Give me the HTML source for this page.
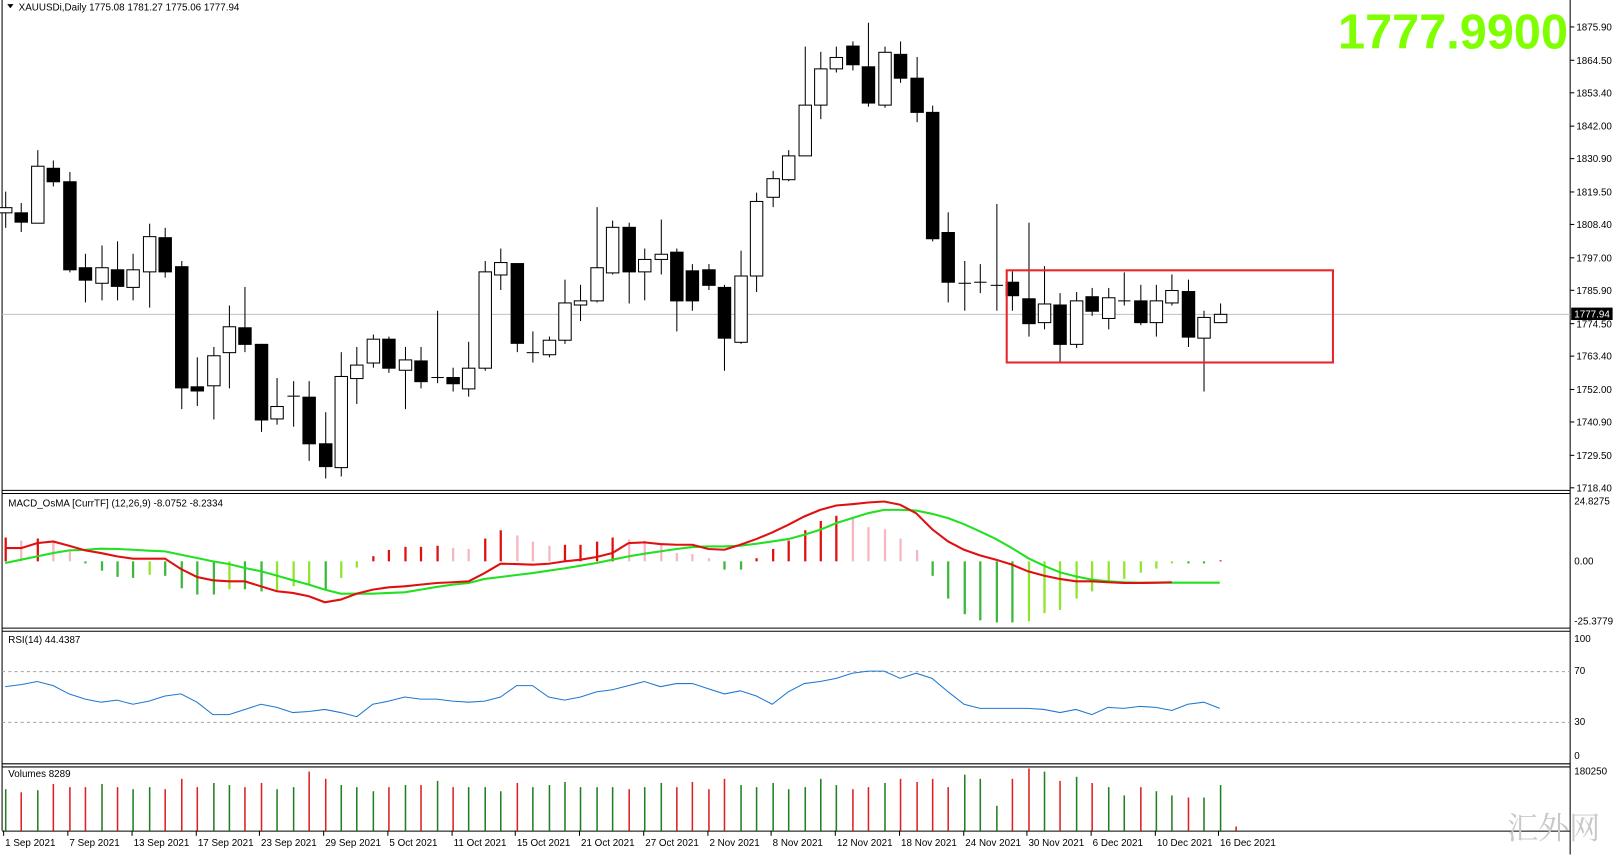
<!DOCTYPE html>
<html><head><meta charset="utf-8"><style>
html,body{margin:0;padding:0;background:#fff;overflow:hidden}
svg{display:block}
text{font-family:"Liberation Sans","DejaVu Sans",sans-serif;font-size:9.5px;fill:#000}
</style></head><body>
<svg id="s" width="1624" height="856" viewBox="0 0 1568 826.5" preserveAspectRatio="none" xmlns="http://www.w3.org/2000/svg">
<rect width="1568" height="826.5" fill="#fff"/>
<g id="g"></g>
<text x="1514" y="47" text-anchor="end" style="font-size:47px;font-weight:bold;fill:#7fff00">1777.9900</text>
<text x="18" y="10">XAUUSDi,Daily  1775.08 1781.27 1775.06 1777.94</text>
<path d="M7 4 L13 4 L10 8 Z" fill="#000"/>
<text x="8" y="489">MACD_OsMA [CurrTF] (12,26,9) -8.0752 -8.2334</text>
<text x="8" y="621">RSI(14) 44.4387</text>
<text x="8" y="750">Volumes 8289</text>
<text x="1500" y="810" text-anchor="middle" style="font-size:30px;fill:#c8c8c8;font-family:'Noto Serif CJK SC','Noto Sans CJK SC',serif">汇外网</text>
</svg>
<script>
var g=document.getElementById('g'),h='';
function L(x1,y1,x2,y2,c,w,d){h+='<line x1="'+x1+'" y1="'+y1+'" x2="'+x2+'" y2="'+y2+'" stroke="'+c+'" stroke-width="'+(w||1)+'"'+(d?' stroke-dasharray="'+d+'"':'')+'/>';}
function R(x,y,w,hh,f,s){h+='<rect x="'+x+'" y="'+y+'" width="'+w+'" height="'+hh+'" fill="'+f+'"'+(s?' stroke="'+s+'"':'')+'/>';}
function T(x,y,t,a){h+='<text x="'+x+'" y="'+y+'"'+(a?' text-anchor="'+a+'"':'')+'>'+t+'</text>';}
L(2,0,2,802,'#000');L(1516,0,1516,825,'#000');
[473,476,606,609,737,740,802].forEach(function(y){L(2,y+.5,1516,y+.5,'#000');});
var pl=[1875.9,1864.5,1853.4,1842,1830.9,1819.5,1808.4,1797,1785.9,1774.5,1763.4,1752,1740.9,1729.5,1718.4];
pl.forEach(function(p){var y=26+(1875.9-p)*2.8254;L(1516,y,1520,y,'#000');T(1522,y+3.5,p.toFixed(2));});
L(2,303.5,1516,303.5,'#c0c0c0');
var C=[[185,200,205,220,1],[196,205,214,224,0],[145,160,215,215,1],[155,162,175,180,0],[166,175,260,263,0],[245,258,270,292,0],[237,258,273,290,1],[233,260,276,290,0],[245,260,277,290,1],[216,228,262,297,1],[220,229,262,268,0],[252,257,374,395,0],[345,373,377,392,0],[335,343,372,405,1],[295,315,340,375,1],[277,316,332,340,0],[332,332,405,417,0],[365,392,404,410,1],[368,382,383,412,2],[368,383,428,445,0],[398,428,450,462,0],[340,363,451,460,1],[335,352,365,390,1],[323,327,350,355,1],[325,327,355,360,0],[335,347,357,395,1],[335,348,368,375,0],[300,364,365,370,2],[355,364,370,378,0],[330,355,375,383,1],[252,262,355,358,1],[240,253,265,280,1],[254,254,331,340,0],[320,340,341,350,2],[325,328,342,345,1],[270,292,328,332,1],[275,290,294,310,1],[200,258,290,292,1],[213,219,263,265,1],[215,219,262,293,0],[240,250,262,290,1],[212,245,250,265,1],[240,243,290,320,0],[255,261,290,300,0],[255,260,275,280,0],[275,277,326,358,0],[242,266,330,332,1],[186,194,266,282,1],[165,172,190,200,1],[145,150,173,175,1],[45,101,150,150,1],[50,66,101,115,1],[45,55,66,70,1],[40,44,62,68,0],[22,64,99,103,0],[45,50,101,104,1],[40,52,75,80,0],[55,75,108,118,0],[102,108,230,233,0],[205,224,272,292,0],[252,273,274,300,2],[255,272,273,283,2],[197,275,276,300,2],[262,272,285,300,0],[215,288,312,325,0],[257,293,311,318,1],[283,294,332,350,0],[282,290,332,336,1],[278,286,300,305,0],[278,287,307,318,1],[263,290,291,295,2],[275,290,311,314,0],[275,290,311,325,1],[265,280,292,295,1],[270,281,325,335,0],[300,306,326,378,1],[293,303,311,312,1]];
function X(i){return 5+15.43*i;}
C.forEach(function(c,i){var x=Math.round(X(i))+.5;L(x,c[0],x,c[3],'#000');
 if(c[4]==2){L(x-6,c[1]+.5,x+6,c[1]+.5,'#000');}
 else R(x-6,c[1]+.5,12,Math.max(1,c[2]-c[1]),c[4]?'#fff':'#000','#000');});
h+='<rect x="972" y="261" width="315" height="89" fill="none" stroke="#e8262b" stroke-width="2"/>';
R(1517,297,40,12,'#000');h+='<text x="1520" y="306.5" style="fill:#fff">1777.94</text>';
T(1520,487,'24.8275');T(1520,545,'0.00');T(1520,603,'-25.3779');
var Hs=[23,20,22,19,11,-2,-9,-15,-16,-13,-14,-26,-32,-32,-27,-27,-29,-28,-24,-23,-27,-16,-6,5,11,14,14,15,13,12,22,30,25,19,15,16,16,19,23,21,20,17,8,7,3,-8,-8,3,12,20,30,39,44,43,33,31,22,11,-14,-36,-51,-57,-59,-59,-58,-50,-47,-36,-29,-20,-17,-11,-7,-2,-2,-2,1];
Hs.forEach(function(v,i){var x=Math.round(X(i))+.5,p=Hs[i-1]===undefined?v:Hs[i-1],c;
 if(v>=0)c=(v>=p)?'#e01010':'#f5b8c0';else c=(v<=p)?'#3cb83c':'#8ee62a';
 L(x,542,x,542-v,c,2.2);});
var red=[175,175,160,155,168,182,190,200,207,207,207,238,262,272,275,275,290,305,310,320,338,330,312,300,293,290,285,280,278,275,250,222,223,225,222,215,210,202,190,160,158,163,165,165,178,180,165,148,128,105,80,60,47,43,38,35,45,70,118,155,180,197,210,225,245,258,268,275,275,278,280,280,279,278];
var grn=[220,210,200,190,182,180,177,178,180,183,185,195,205,215,223,235,245,258,272,285,300,312,312,312,310,308,300,292,285,280,268,262,256,250,243,236,228,220,210,200,192,185,178,172,170,170,168,162,155,148,135,120,100,85,70,60,60,62,72,85,103,125,148,175,205,228,248,260,270,275,278,279,279,279,279,279,279];
function pl2(a,c){var d='';a.forEach(function(y,i){d+=(i?'L':'M')+X(i).toFixed(1)+' '+(473+y*0.321).toFixed(1);});h+='<path d="'+d+'" fill="none" stroke="'+c+'" stroke-width="2"/>';}
pl2(grn,'#22e022');pl2(red,'#e01010');
T(1520,620,'100');T(1520,651,'70');T(1520,700,'30');T(1520,733,'0');
L(2,648.5,1516,648.5,'#a0a0a0',1,'3,3');L(2,697.5,1516,697.5,'#a0a0a0',1,'3,3');
var rs=[663,661,658,662,670,675,678,676,680,677,672,670,678,690,690,685,680,683,688,687,685,688,692,680,677,673,675,675,677,678,677,673,662,662,673,676,673,668,666,662,658,663,660,660,665,670,667,672,680,668,660,658,655,650,648,648,655,650,655,668,680,684,684,684,684,685,688,685,690,683,684,682,683,686,680,678,684,683,681];
var d='';rs.slice(0,77).forEach(function(y,i){d+=(i?'L':'M')+X(i).toFixed(1)+' '+y;});h+='<path d="'+d+'" fill="none" stroke="#1e78d0" stroke-width="1"/>';
T(1520,748,'180250');
var vt=[762,765,763,757,760,760,757,760,762,760,762,752,760,756,758,760,756,762,760,745,752,758,760,764,760,758,758,754,760,760,760,764,756,760,758,755,760,760,760,762,760,756,760,755,762,752,758,760,756,762,760,752,758,762,760,756,752,755,752,760,748,752,778,752,742,745,754,750,756,760,768,760,764,768,770,770,758];
vt.forEach(function(y,i){var x=Math.round(X(i))+.5;L(x,y,x,802,C[i][4]==0?'#e02020':'#208020',1.5);});
var lx=Math.round(X(77))+.5;L(lx,798,lx,802,'#e02020',1.5);
var ds=[['1 Sep 2021',3],['7 Sep 2021',65],['13 Sep 2021',127],['17 Sep 2021',189],['23 Sep 2021',250],['29 Sep 2021',312],['5 Oct 2021',374],['11 Oct 2021',436],['15 Oct 2021',497],['21 Oct 2021',559],['27 Oct 2021',621],['2 Nov 2021',683],['8 Nov 2021',744],['12 Nov 2021',806],['18 Nov 2021',868],['24 Nov 2021',930],['30 Nov 2021',991],['6 Dec 2021',1053],['10 Dec 2021',1115],['16 Dec 2021',1176]];
ds.forEach(function(a){L(a[1]+.5,802,a[1]+.5,807,'#000');T(a[1]+2,817,a[0]);});
g.innerHTML=h;
</script>
</body></html>
